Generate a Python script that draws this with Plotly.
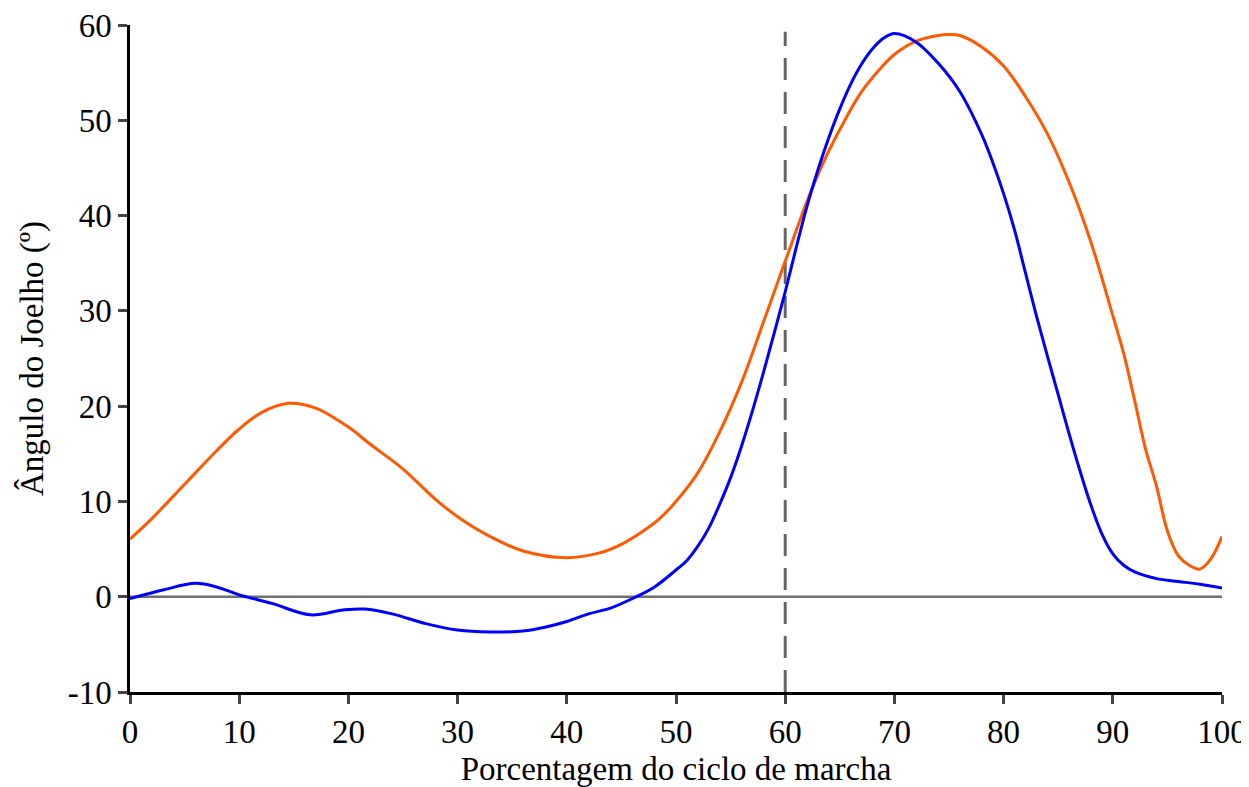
import plotly.graph_objects as go

# Percent of gait cycle (orange series)
x_orange = [0, 2, 5, 8, 10, 12, 14.5, 17, 20, 22, 25, 28, 30, 33, 36, 40, 43, 45, 47, 48.5, 50, 52, 54, 56, 58, 60,
            62, 63, 64, 65.6, 67, 68.7, 70, 72, 74, 75, 76, 78, 80, 82, 84, 86, 88, 90, 91, 92, 93, 94, 95, 96, 97, 98, 99, 100]
y_orange = [6.05, 8.2, 11.8, 15.4, 17.6, 19.3, 20.3, 19.8, 17.8, 16.0, 13.4, 10.2, 8.4, 6.3, 4.8, 4.1, 4.6, 5.5, 6.9, 8.2, 10.0, 13.0, 17.3, 22.5, 28.8, 35.2,
            41.5, 44.3, 46.8, 50.3, 53.0, 55.4, 56.9, 58.3, 58.9, 59.0, 58.9, 57.7, 55.7, 52.5, 48.6, 43.5, 37.2, 29.5, 25.5, 20.6, 15.5, 11.6, 6.9, 4.3, 3.3, 2.9, 4.0, 6.3]

# Percent of gait cycle (blue series)
x_blue = [0, 3, 6, 8, 10, 13, 16.5, 19.5, 21.5, 24, 27, 30, 33, 36, 38, 40, 42, 44, 46, 48, 50, 51, 52, 53, 54, 55, 56, 57, 58, 59, 60,
          61, 62, 63, 64, 65, 66, 67, 68, 69, 70, 72, 74, 76, 78, 79, 80, 81, 82, 83, 84, 85, 86, 87, 88, 89, 90, 91, 92, 94, 96, 98, 100]
y_blue = [-0.2, 0.7, 1.4, 1.0, 0.2, -0.7, -1.9, -1.4, -1.3, -1.8, -2.8, -3.5, -3.7, -3.6, -3.2, -2.6, -1.8, -1.2, -0.2, 1.0, 2.8, 3.8, 5.3, 7.2, 9.7, 12.5, 15.8, 19.5, 23.5, 27.7, 32.0,
          36.6, 41.0, 44.8, 48.2, 51.2, 53.8, 55.9, 57.5, 58.6, 59.1, 58.2, 56.0, 53.0, 48.5, 45.6, 42.3, 38.5, 34.0, 29.5, 25.3, 21.2, 17.1, 13.2, 9.6, 6.6, 4.5, 3.3, 2.6, 1.9, 1.6, 1.3, 0.9]

stance_end = 60
stance_line_top = 59.3
x_ticks = [0, 10, 20, 30, 40, 50, 60, 70, 80, 90, 100]
y_ticks = [-10, 0, 10, 20, 30, 40, 50, 60]
y_tick_text = ["-10", "0", "10", "20", "30", "40", "50", "60"]

FONT = "Liberation Serif"
FS = 33

fig = go.Figure()
fig.add_trace(go.Scatter(x=[0, 100], y=[0, 0], mode="lines",
                         line=dict(color="#707070", width=2.5), showlegend=False, hoverinfo="skip"))
fig.add_trace(go.Scatter(x=[stance_end, stance_end], y=[-10, stance_line_top], mode="lines",
                         line=dict(color="#666666", width=3, dash="22px,12px"), showlegend=False, hoverinfo="skip"))
fig.add_trace(go.Scatter(x=x_orange, y=y_orange, mode="lines", line=dict(color="#FF5A00", width=3, shape="spline"),
                         showlegend=False))
fig.add_trace(go.Scatter(x=x_blue, y=y_blue, mode="lines", line=dict(color="#0000FF", width=3, shape="spline"),
                         showlegend=False))

fig.update_layout(
    width=1241, height=779,
    margin=dict(l=122, r=27, t=17, b=95),
    plot_bgcolor="white", paper_bgcolor="white",
    font=dict(family=FONT, size=FS, color="black"),
)
fig.update_xaxes(range=[0, 100], tickvals=x_ticks, ticks="outside", ticklen=9, tickwidth=2.5,
                 showline=True, linecolor="black", linewidth=2.5, showgrid=False, zeroline=False,
                 automargin=False, ticklabeloverflow="allow",
                 title=dict(text="Porcentagem do ciclo de marcha", font=dict(size=FS), standoff=16),
                 tickfont=dict(size=FS))
fig.update_yaxes(range=[-10, 60], tickvals=y_ticks, ticktext=y_tick_text, ticks="outside", ticklen=9, tickwidth=2.5,
                 showline=True, linecolor="black", linewidth=2.5, showgrid=False, zeroline=False,
                 automargin=False, ticklabeloverflow="allow",
                 title=dict(text="Ângulo do Joelho (º)", font=dict(size=FS), standoff=15),
                 tickfont=dict(size=FS))

fig.write_html("out.html")
